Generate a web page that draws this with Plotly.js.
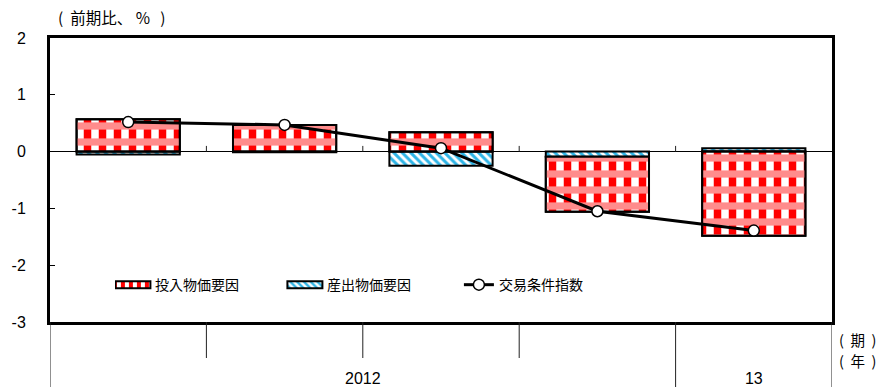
<!DOCTYPE html>
<html>
<head>
<meta charset="utf-8">
<script src="https://cdn.plot.ly/plotly-3.0.1.min.js"></script>
<style>
  html, body { margin: 0; padding: 0; background: #fff; }
  #chart { width: 885px; height: 387px; }
</style>
</head>
<body>
<div id="chart"></div>
<script>
// Quarterly change in the terms of trade and its price factors (% q/q)
const quarters = ['2012年1～3月', '2012年4～6月', '2012年7～9月', '2012年10～12月', '2013年1～3月'];
const quarterYear = ['2012', '2012', '2012', '2012', '13'];
const inputFactor = [0.57, 0.47, 0.34, -0.97, -1.48];
const outputFactor = [-0.05, -0.01, -0.25, -0.09, 0.06];
const termsOfTrade = [0.52, 0.47, 0.06, -1.05, -1.39];
const yTicks = [-3, -2, -1, 0, 1, 2];

const seriesNames = ['投入物価要因', '産出物価要因', '交易条件指数'];

const latin = 'Liberation Sans, Arial, sans-serif';
const cjk = 'Noto Sans CJK JP, sans-serif';
const nb = '\u00a0';

const x = quarters.map((_, i) => i);
// input factor stacks on top of the output factor when both share a sign
const inputBase = inputFactor.map((v, i) =>
  Math.sign(v) === Math.sign(outputFactor[i]) ? outputFactor[i] : 0);
const zeros = x.map(() => 0);
const barWidth = 0.66;

const traces = [
  {
    type: 'bar', name: seriesNames[1], x: x, y: outputFactor, base: zeros,
    width: barWidth, legendrank: 2, hovertext: quarters,
    marker: {
      color: '#ffffff', line: { color: '#000', width: 2 },
      pattern: { shape: '\\', fgcolor: '#2eb4e6', bgcolor: '#ffffff', size: 6, solidity: 0.5 }
    }
  },
  {
    type: 'bar', name: seriesNames[0], x: x, y: inputFactor, base: inputBase,
    width: barWidth, legendrank: 1, hovertext: quarters,
    marker: {
      color: '#ffffff', line: { color: '#000', width: 2 },
      pattern: { shape: '|', fgcolor: '#ff0000', bgcolor: '#ffffff', size: 15, solidity: 0.5 }
    }
  },
  {
    // horizontal bands of the gingham fill
    type: 'bar', name: seriesNames[0], x: x, y: inputFactor, base: inputBase,
    width: barWidth, showlegend: false, hoverinfo: 'skip',
    marker: {
      color: 'rgba(0,0,0,0)', line: { color: '#000', width: 2 },
      pattern: { shape: '-', fgcolor: '#ff8c8c', size: 16, solidity: 0.45 }
    }
  },
  {
    type: 'scatter', mode: 'lines+markers', name: seriesNames[2],
    x: x, y: termsOfTrade, legendrank: 3, hovertext: quarters,
    line: { color: '#000', width: 3 },
    marker: { symbol: 'circle', size: 11, color: '#ffffff', line: { color: '#000', width: 1.5 } }
  }
];

// year groups: label centre and boundaries
const years = [...new Set(quarterYear)];
const yearCenters = years.map(yr => {
  const idx = x.filter(i => quarterYear[i] === yr);
  return (idx[0] + idx[idx.length - 1]) / 2;
});

const plotH = 387 - 38 - 65;
const shapes = [];
for (let i = 0; i <= quarters.length; i++) {
  const pos = i - 0.5;
  const yearEdge = i === 0 || i === quarters.length || quarterYear[i] !== quarterYear[i - 1];
  shapes.push({
    type: 'line', xref: 'x', yref: 'paper', x0: pos, x1: pos,
    y0: 0, y1: yearEdge ? -70 / plotH : -36 / plotH,
    line: { color: '#222', width: 1 }
  });
  if (i > 0 && i < quarters.length) {
    // small tick marks on the zero line
    shapes.push({
      type: 'line', xref: 'x', yref: 'y', x0: pos, x1: pos, y0: 0, y1: 0.1,
      line: { color: '#222', width: 1 }
    });
  }
}

const layout = {
  width: 885, height: 387,
  margin: { l: 50, r: 53, t: 38, b: 65 },
  paper_bgcolor: '#ffffff', plot_bgcolor: '#ffffff',
  barmode: 'overlay',
  font: { family: latin, size: 16, color: '#000' },
  title: {
    text: '(' + nb + nb + '前期比、' + nb + '%' + nb + nb + nb + ')',
    font: { family: cjk, size: 15.5, color: '#000' },
    xref: 'container', x: 58 / 885, xanchor: 'left',
    yref: 'container', y: 1 - 19 / 387, yanchor: 'middle'
  },
  xaxis: {
    range: [-0.5, quarters.length - 0.5],
    tickmode: 'array', tickvals: yearCenters, ticktext: years,
    ticks: '', ticklabelstandoff: 40,
    tickfont: { family: latin, size: 16 },
    showline: true, mirror: true, linewidth: 3, linecolor: '#000',
    showgrid: false, zeroline: false, fixedrange: true
  },
  yaxis: {
    range: [-3, 2],
    tickmode: 'array', tickvals: yTicks, ticktext: yTicks.map(String),
    ticks: 'inside', ticklen: 5, tickwidth: 1, tickcolor: '#000',
    ticklabelstandoff: 18,
    tickfont: { family: latin, size: 16 },
    showline: true, mirror: true, linewidth: 3, linecolor: '#000',
    showgrid: false, zeroline: true, zerolinecolor: '#000', zerolinewidth: 1.5,
    fixedrange: true
  },
  legend: {
    orientation: 'h', x: 0.083, xanchor: 'left', y: 0.13, yanchor: 'middle',
    entrywidth: 127, entrywidthmode: 'pixels',
    font: { family: cjk, size: 14, color: '#000' },
    bgcolor: 'rgba(0,0,0,0)', traceorder: 'normal'
  },
  shapes: shapes,
  annotations: [
    { text: '(' + nb + nb + '期' + nb + nb + ')', xref: 'paper', yref: 'paper', x: 1.007, y: -17 / plotH,
      xanchor: 'left', yanchor: 'middle', showarrow: false,
      font: { family: cjk, size: 14.5, color: '#000' } },
    { text: '(' + nb + nb + '年' + nb + nb + ')', xref: 'paper', yref: 'paper', x: 1.007, y: -38 / plotH,
      xanchor: 'left', yanchor: 'middle', showarrow: false,
      font: { family: cjk, size: 14.5, color: '#000' } }
  ],
  showlegend: true
};

// flat, wide swatches for the bar entries of the legend
function widenLegendSwatches(gd) {
  gd.querySelectorAll('g.legendpoints path').forEach(p => {
    const cls = p.getAttribute('class') || '';
    if (/legend(bar|undefined)/.test(cls)) {
      p.setAttribute('d', 'M15.5,3.5H-19.5V-3.5H15.5Z');
    }
  });
}

const chartDiv = document.getElementById('chart');
Plotly.newPlot(chartDiv, traces, layout, { displayModeBar: false, staticPlot: true }).then(gd => {
  widenLegendSwatches(gd);
  gd.on('plotly_afterplot', () => widenLegendSwatches(gd));
  setTimeout(() => widenLegendSwatches(gd), 50);
});
</script>
</body>
</html>
